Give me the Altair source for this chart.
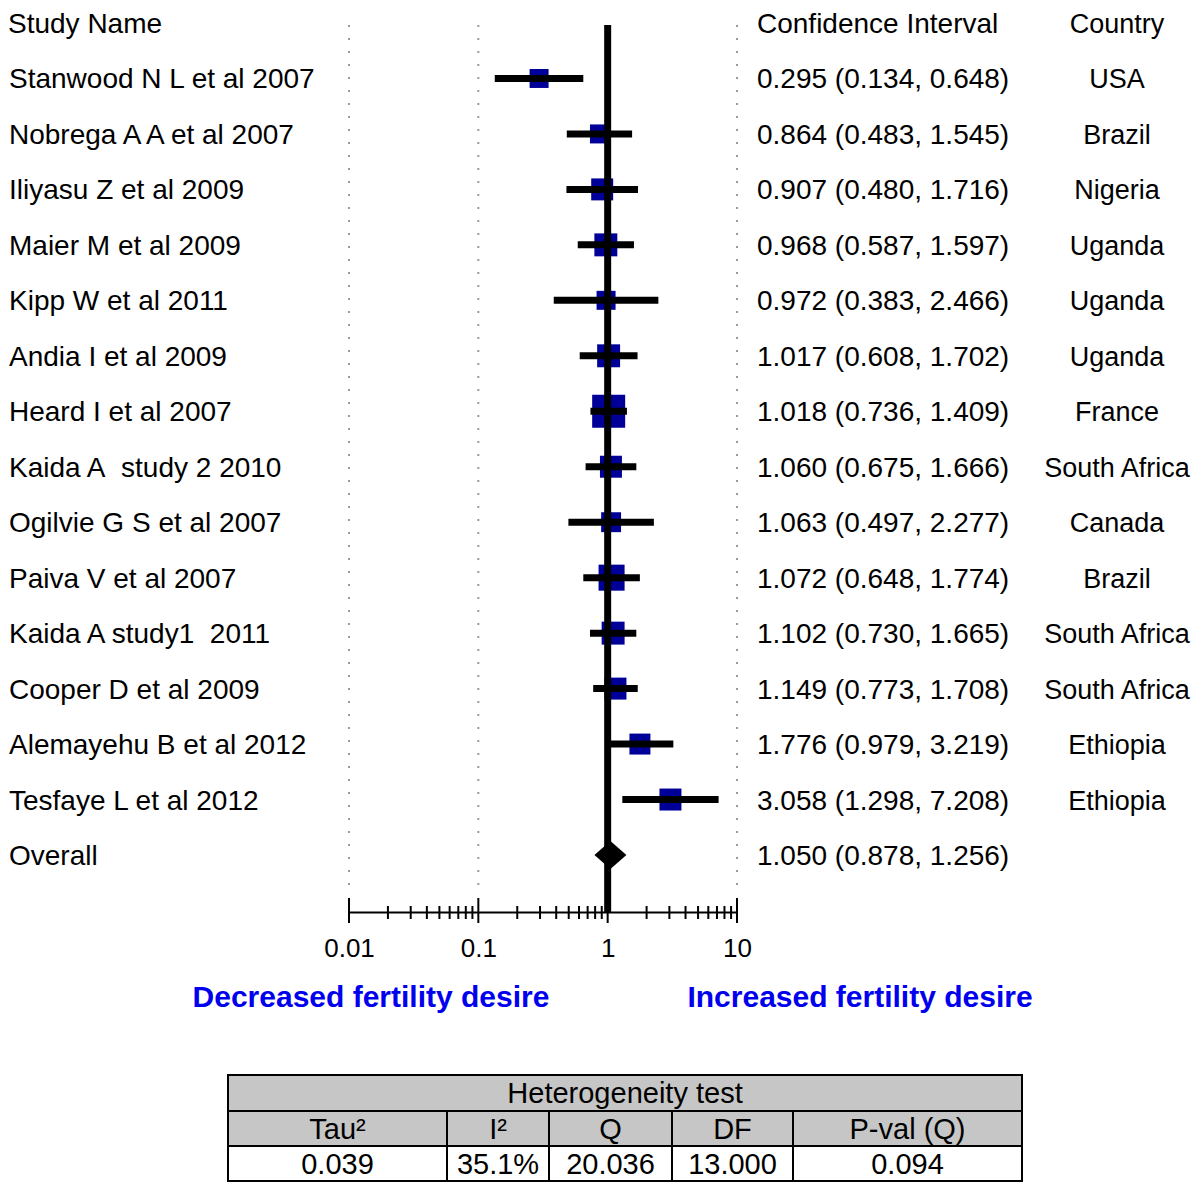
import altair as alt
import pandas as pd

# ---------------- data ----------------
study_names = [
    "Stanwood N L et al 2007", "Nobrega A A et al 2007", "Iliyasu Z et al 2009",
    "Maier M et al 2009", "Kipp W et al 2011", "Andia I et al 2009",
    "Heard I et al 2007", "Kaida A\u00a0 study 2 2010", "Ogilvie G S et al 2007",
    "Paiva V et al 2007", "Kaida A study1\u00a0 2011", "Cooper D et al 2009",
    "Alemayehu B et al 2012", "Tesfaye L et al 2012",
]
estimates = [0.295, 0.864, 0.907, 0.968, 0.972, 1.017, 1.018, 1.060, 1.063, 1.072, 1.102, 1.149, 1.776, 3.058]
lower = [0.134, 0.483, 0.480, 0.587, 0.383, 0.608, 0.736, 0.675, 0.497, 0.648, 0.730, 0.773, 0.979, 1.298]
upper = [0.648, 1.545, 1.716, 1.597, 2.466, 1.702, 1.409, 1.666, 2.277, 1.774, 1.665, 1.708, 3.219, 7.208]
countries = ["USA", "Brazil", "Nigeria", "Uganda", "Uganda", "Uganda", "France",
             "South Africa", "Canada", "Brazil", "South Africa", "South Africa",
             "Ethiopia", "Ethiopia"]
# relative weights (%)
weights = [5.0, 5.0, 6.7, 7.3, 5.0, 7.3, 15.1, 6.7, 5.5, 9.4, 7.3, 6.7, 6.1, 6.7]

overall_name = "Overall"
overall_est = 1.050
overall_lo = 0.878
overall_hi = 1.256

column_headers = ["Study Name", "Confidence Interval", "Country"]
axis_labels = [0.01, 0.1, 1, 10]
gridline_values = [0.01, 0.1, 10]
major_ticks = [0.01, 0.1, 1, 10]
minor_ticks = [m * d for d in [0.01, 0.1, 1] for m in range(2, 10)]
null_value = [1]

side_labels = ["Decreased fertility desire", "Increased fertility desire"]

table_title = "Heterogeneity test"
table_headers = ["Tau\u00b2", "I\u00b2", "Q", "DF", "P-val (Q)"]
table_values = ["0.039", "35.1%", "20.036", "13.000", "0.094"]

# ---------------- build tables ----------------
n = len(study_names)
studies = pd.DataFrame({
    "row": list(range(1, n + 1)),
    "name": study_names,
    "est": estimates,
    "lo": lower,
    "hi": upper,
    "country": countries,
    "weight": weights,
})
studies["ci"] = [f"{e:.3f} ({l:.3f}, {h:.3f})" for e, l, h in zip(estimates, lower, upper)]

text_rows = pd.DataFrame({
    "row": list(range(1, n + 2)),
    "name": study_names + [overall_name],
    "ci": list(studies["ci"]) + [f"{overall_est:.3f} ({overall_lo:.3f}, {overall_hi:.3f})"],
    "country": countries + [""],
})
overall = pd.DataFrame({"row": [n + 1], "est": [overall_est]})
headers = pd.DataFrame({"row": [0], "h1": [column_headers[0]], "h2": [column_headers[1]], "h3": [column_headers[2]]})

FONT = "Liberation Sans"
W, H = 1184, 1174
AXIS_Y = 904

x_scale = alt.Scale(type="log", domain=[0.01, 10], range=[341, 729], nice=False)
x_axis = alt.Axis(values=axis_labels, format="~g", title=None, ticks=False, grid=False,
                  domainColor="black", domainWidth=2, labelFontSize=26, labelFont=FONT,
                  labelColor="black", labelPadding=23, labelBaseline="top",
                  labelFlush=False, labelOverlap=False, offset=AXIS_Y - H)
y_scale = alt.Scale(domain=[0, 15], range=[15, 847], nice=False, zero=False)


def X(field):
    return alt.X(f"{field}:Q", scale=x_scale, axis=x_axis)


def Y():
    return alt.Y("row:Q", scale=y_scale, axis=None)


one = alt.Data(values=[{}])

grid = alt.Chart(pd.DataFrame({"v": gridline_values})).mark_rule(
    color="#9a9a9a", strokeWidth=2, strokeDash=[2, 11]
).encode(x=X("v"), y=alt.value(17), y2=alt.value(887))

squares = alt.Chart(studies).mark_square(color="#000099", opacity=1, filled=True).encode(
    x=X("est"), y=Y(),
    size=alt.Size("weight:Q", scale=alt.Scale(domain=[0, 15.1], range=[0, 1089], zero=True), legend=None),
)

ci_lines = alt.Chart(studies).mark_rule(color="black", strokeWidth=7).encode(
    x=X("lo"), x2="hi", y=Y()
)

null_line = alt.Chart(pd.DataFrame({"v": null_value})).mark_rule(color="black", strokeWidth=7).encode(
    x=X("v"), y=alt.value(17), y2=alt.value(AXIS_Y)
)

diamond = alt.Chart(overall).mark_point(
    shape="M-1,0L0,-0.875L1,0L0,0.875Z", filled=True, color="black", opacity=1, size=1024
).encode(x=X("est"), y=Y())

major = alt.Chart(pd.DataFrame({"v": major_ticks})).mark_rule(color="black", strokeWidth=2).encode(
    x=X("v"), y=alt.value(AXIS_Y - 14), y2=alt.value(AXIS_Y + 11)
)
minor = alt.Chart(pd.DataFrame({"v": minor_ticks})).mark_rule(color="black", strokeWidth=2).encode(
    x=X("v"), y=alt.value(AXIS_Y - 6), y2=alt.value(AXIS_Y + 7)
)

txt = dict(font=FONT, fontSize=28, color="black", baseline="middle", dy=2)
ctry = dict(font=FONT, fontSize=27, color="black", baseline="middle", dy=2, align="center")
COUNTRY_X = 1109
names_t = alt.Chart(text_rows).mark_text(align="left", **txt).encode(x=alt.value(1), y=Y(), text="name:N")
ci_t = alt.Chart(text_rows).mark_text(align="left", **txt).encode(x=alt.value(749), y=Y(), text="ci:N")
country_t = alt.Chart(text_rows).mark_text(**ctry).encode(x=alt.value(COUNTRY_X), y=Y(), text="country:N")
h1 = alt.Chart(headers).mark_text(align="left", **txt).encode(x=alt.value(0), y=Y(), text="h1:N")
h2 = alt.Chart(headers).mark_text(align="left", **txt).encode(x=alt.value(749), y=Y(), text="h2:N")
h3 = alt.Chart(headers).mark_text(**ctry).encode(x=alt.value(COUNTRY_X), y=Y(), text="h3:N")

side = []
for label, cx in zip(side_labels, [363, 852]):
    side.append(
        alt.Chart(one).mark_text(text=label, font=FONT, fontSize=30, fontWeight="bold",
                                 color="#0000ee", align="center", baseline="middle")
        .encode(x=alt.value(cx), y=alt.value(990))
    )

# ---------------- heterogeneity table ----------------
edges = [220, 439, 541, 664, 785, 1014]
row_y = [1067, 1103, 1138, 1173]
GRAY = "#c6c6c6"
table_layers = [
    alt.Chart(one).mark_rect(fill=GRAY, stroke="black", strokeWidth=2).encode(
        x=alt.value(edges[0]), x2=alt.value(edges[-1]), y=alt.value(row_y[0]), y2=alt.value(row_y[1]))
]
for i in range(5):
    for r, fill in [(1, GRAY), (2, "white")]:
        table_layers.append(
            alt.Chart(one).mark_rect(fill=fill, stroke="black", strokeWidth=2).encode(
                x=alt.value(edges[i]), x2=alt.value(edges[i + 1]),
                y=alt.value(row_y[r]), y2=alt.value(row_y[r + 1]))
        )
tt = dict(font=FONT, fontSize=29, color="black", baseline="middle", align="center", dy=1)
table_layers.append(
    alt.Chart(one).mark_text(text=table_title, **tt).encode(
        x=alt.value((edges[0] + edges[-1]) / 2), y=alt.value((row_y[0] + row_y[1]) / 2))
)
for i in range(5):
    cx = (edges[i] + edges[i + 1]) / 2
    table_layers.append(
        alt.Chart(one).mark_text(text=table_headers[i], **tt).encode(
            x=alt.value(cx), y=alt.value((row_y[1] + row_y[2]) / 2))
    )
    table_layers.append(
        alt.Chart(one).mark_text(text=table_values[i], **tt).encode(
            x=alt.value(cx), y=alt.value((row_y[2] + row_y[3]) / 2))
    )

chart = alt.layer(
    grid, squares, ci_lines, null_line, diamond, major, minor,
    names_t, ci_t, country_t, h1, h2, h3, *side, *table_layers
).properties(
    width=W, height=H, padding=0, autosize=alt.AutoSizeParams(type="none")
).configure_view(strokeWidth=0)

chart.save("out.html", embed_options={"renderer": "svg", "actions": False})
